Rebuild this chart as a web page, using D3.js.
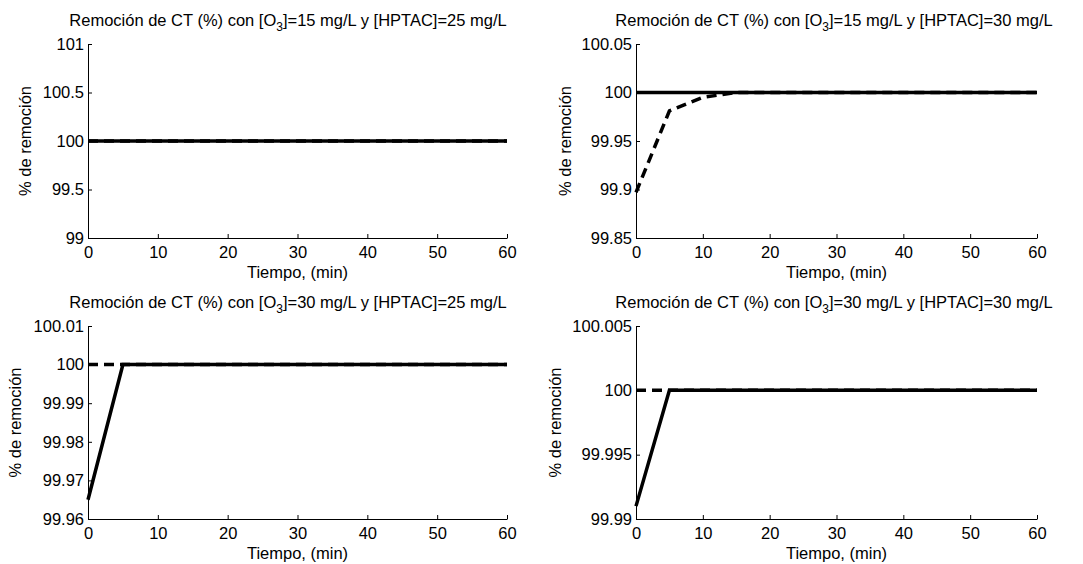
<!DOCTYPE html>
<html>
<head>
<meta charset="utf-8">
<script src="https://cdn.jsdelivr.net/npm/d3@7"></script>
<style>
  body { margin: 0; background: #fff; }
  svg { display: block; font-family: 'Liberation Sans', Arial, sans-serif; }
</style>
</head>
<body>
<div id="chart"></div>
<script>
// time points (min)
const tiempo = [0, 5, 10, 15, 20, 25, 30, 35, 40, 45, 50, 55, 60];

// panel titles: [O3] and [HPTAC]
const ozono = [15, 15, 30, 30];
const hptac = [25, 30, 25, 30];

// solid series per panel
const solid1 = [100, 100, 100, 100, 100, 100, 100, 100, 100, 100, 100, 100, 100];
const solid2 = [100, 100, 100, 100, 100, 100, 100, 100, 100, 100, 100, 100, 100];
const solid3 = [99.965, 100, 100, 100, 100, 100, 100, 100, 100, 100, 100, 100, 100];
const solid4 = [99.991, 100, 100, 100, 100, 100, 100, 100, 100, 100, 100, 100, 100];

// dashed series per panel
const dashed1 = [100, 100, 100, 100, 100, 100, 100, 100, 100, 100, 100, 100, 100];
const dashed2 = [99.897, 99.981, 99.995, 100, 100, 100, 100, 100, 100, 100, 100, 100, 100];
const dashed3 = [100, 100, 100, 100, 100, 100, 100, 100, 100, 100, 100, 100, 100];
const dashed4 = [100, 100, 100, 100, 100, 100, 100, 100, 100, 100, 100, 100, 100];

// axis ticks
const xTicks = [0, 10, 20, 30, 40, 50, 60];
const yTicks1 = [99, 99.5, 100, 100.5, 101];
const yTicks2 = [99.85, 99.9, 99.95, 100, 100.05];
const yTicks3 = [99.96, 99.97, 99.98, 99.99, 100, 100.01];
const yTicks4 = [99.99, 99.995, 100, 100.005];

const W = 1083, H = 564;
const FS = '16.5px';

const panels = [
  { left: 88, right: 507, top: 44, bottom: 238, solid: solid1, dashed: dashed1, yTicks: yTicks1, ylabX: 25, titleX: 288 },
  { left: 636, right: 1037, top: 44, bottom: 238, solid: solid2, dashed: dashed2, yTicks: yTicks2, ylabX: 565, titleX: 834 },
  { left: 88, right: 507, top: 326, bottom: 519, solid: solid3, dashed: dashed3, yTicks: yTicks3, ylabX: 15, titleX: 288 },
  { left: 636, right: 1037, top: 326, bottom: 519, solid: solid4, dashed: dashed4, yTicks: yTicks4, ylabX: 555, titleX: 834 }
];

const svg = d3.select('#chart').append('svg')
  .attr('width', W)
  .attr('height', H);

panels.forEach((p, i) => {
  const yDomain = d3.extent(p.yTicks);
  const x = d3.scaleLinear().domain([0, 60]).range([p.left, p.right]);
  const y = d3.scaleLinear().domain(yDomain).range([p.bottom, p.top]);

  const g = svg.append('g');

  // axes (MATLAB style, ticks pointing in)
  const xAxis = d3.axisBottom(x)
    .tickValues(xTicks)
    .tickSizeInner(-4)
    .tickSizeOuter(0)
    .tickPadding(6)
    .tickFormat(d => d);

  const yAxis = d3.axisLeft(y)
    .tickValues(p.yTicks)
    .tickSizeInner(-4)
    .tickSizeOuter(0)
    .tickPadding(4)
    .tickFormat(d => String(+d.toFixed(3)));

  const gx = g.append('g')
    .attr('transform', `translate(0,${p.bottom})`)
    .call(xAxis);
  const gy = g.append('g')
    .attr('transform', `translate(${p.left},0)`)
    .call(yAxis);

  [gx, gy].forEach(a => {
    a.selectAll('.domain').attr('stroke', '#000').attr('stroke-width', 1);
    a.selectAll('.tick line').attr('stroke', '#000');
    a.selectAll('.tick text')
      .attr('fill', '#000')
      .style('font-size', FS);
  });
  gx.selectAll('.tick text').attr('dy', '0.85em');

  const line = d3.line()
    .x((d, j) => x(tiempo[j]))
    .y(d => y(d));

  g.append('path')
    .datum(p.dashed)
    .attr('d', line)
    .attr('fill', 'none')
    .attr('stroke', '#000')
    .attr('stroke-width', 3.5)
    .attr('stroke-dasharray', '10,6');

  g.append('path')
    .datum(p.solid)
    .attr('d', line)
    .attr('fill', 'none')
    .attr('stroke', '#000')
    .attr('stroke-width', 3.5);

  // title with subscript
  const title = g.append('text')
    .attr('x', p.titleX)
    .attr('y', p.top - 18)
    .attr('text-anchor', 'middle')
    .style('font-size', FS);
  title.append('tspan').text('Remoción de CT (%) con [O');
  title.append('tspan').attr('dy', 5).style('font-size', '12px').text('3');
  title.append('tspan').attr('dy', -5).text(`]=${ozono[i]} mg/L y [HPTAC]=${hptac[i]} mg/L`);

  g.append('text')
    .attr('x', (p.left + p.right) / 2)
    .attr('y', p.bottom + 40)
    .attr('text-anchor', 'middle')
    .style('font-size', FS)
    .text('Tiempo, (min)');

  g.append('text')
    .attr('transform', `translate(${p.ylabX},${(p.top + p.bottom) / 2}) rotate(-90)`)
    .attr('text-anchor', 'middle')
    .attr('dy', '0.35em')
    .style('font-size', FS)
    .text('% de remoción');
});
</script>
</body>
</html>
